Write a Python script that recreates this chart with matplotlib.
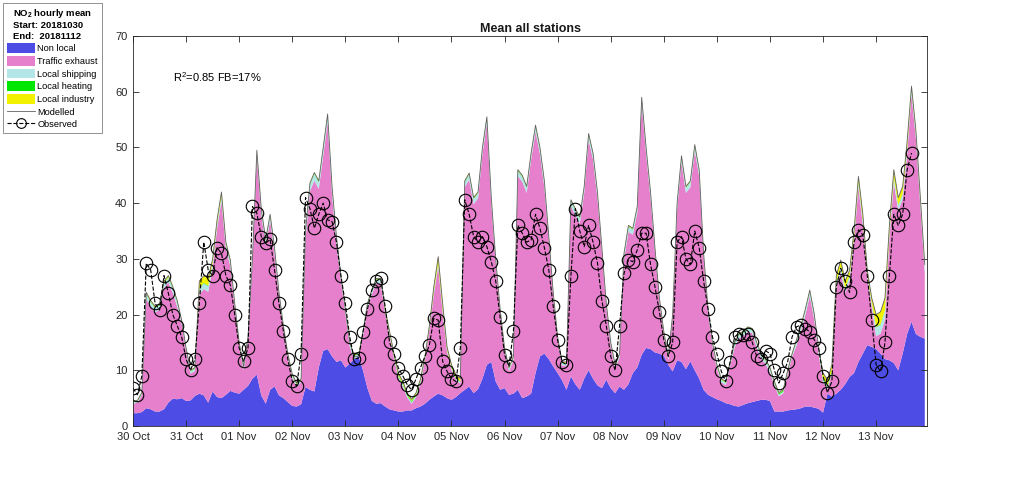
import numpy as np
import matplotlib
matplotlib.use('Agg')
import matplotlib.pyplot as plt
from matplotlib.patches import Patch
from matplotlib.lines import Line2D

plt.rcParams['font.family'] = ['Liberation Sans', 'DejaVu Sans']
plt.rcParams['mathtext.fontset'] = 'custom'
plt.rcParams['mathtext.rm'] = 'Liberation Sans'
plt.rcParams['mathtext.bf'] = 'Liberation Sans:bold'

## time axis: hours since 30 Oct 2018 00:00, one value every 2nd hour
hours = np.arange(0, 360, 2)
day_ticks = np.arange(0, 360, 24)
day_labels = ['30 Oct', '31 Oct', '01 Nov', '02 Nov', '03 Nov', '04 Nov', '05 Nov',
              '06 Nov', '07 Nov', '08 Nov', '09 Nov', '10 Nov', '11 Nov', '12 Nov', '13 Nov']

# modelled total (top of the stack), one row per day
modelled = [
    4.4, 4.6, 6.0, 24.0, 22.5, 21.5, 22.0, 26.0, 27.0, 25.0, 22.5, 19.0,
    14.0, 10.0, 10.5, 26.0, 27.0, 26.5, 30.0, 37.0, 42.0, 33.0, 29.8, 22.0,
    15.0, 10.7, 16.0, 30.0, 49.5, 39.0, 33.5, 38.0, 32.0, 24.0, 18.0, 13.0,
    9.3, 7.7, 8.5, 35.0, 43.6, 45.5, 44.0, 50.0, 56.0, 43.0, 34.0, 27.0,
    21.0, 15.0, 12.5, 12.5, 17.0, 22.0, 24.5, 26.5, 26.5, 21.0, 17.0, 13.0,
    9.5, 8.0, 5.9, 4.8, 6.0, 8.5, 12.5, 18.0, 25.0, 30.4, 22.0, 14.2,
    11.0, 9.2, 8.5, 44.0, 45.4, 41.0, 42.0, 50.0, 55.5, 41.0, 30.0, 21.0,
    14.0, 10.5, 12.5, 46.0, 45.0, 43.0, 49.0, 54.0, 50.0, 44.0, 34.0, 24.0,
    16.0, 11.5, 11.5, 40.6, 39.0, 37.5, 43.0, 52.5, 49.0, 42.0, 32.0, 22.0,
    15.0, 11.0, 13.0, 31.0, 36.0, 35.5, 39.4, 59.0, 50.0, 42.0, 32.0, 23.0,
    17.0, 12.5, 20.0, 40.0, 48.5, 43.0, 44.0, 50.5, 46.0, 31.0, 21.0, 15.0,
    11.0, 8.5, 8.0, 11.5, 15.0, 16.6, 17.0, 17.8, 17.5, 15.0, 13.0, 12.0,
    10.5, 8.0, 6.0, 6.5, 10.0, 13.0, 15.5, 18.0, 21.0, 24.4, 20.2, 14.0,
    9.5, 8.3, 11.0, 27.0, 29.8, 26.0, 28.0, 35.0, 44.8, 38.0, 28.0, 23.0,
    20.0, 20.5, 23.0, 36.0, 46.0, 41.0, 43.0, 51.0, 61.0, 53.0, 41.0, 29.0]

non_local = [
    2.3, 2.3, 2.5, 3.2, 3.0, 2.6, 2.6, 3.0, 4.2, 4.9, 4.8, 5.0,
    4.5, 4.6, 5.4, 5.8, 5.5, 4.2, 6.2, 5.2, 5.0, 5.6, 6.3, 6.0,
    5.8, 6.5, 7.2, 8.5, 9.2, 5.5, 4.0, 6.5, 7.1, 5.5, 5.0, 4.3,
    3.6, 3.5, 3.9, 7.0, 6.5, 6.2, 10.5, 13.5, 13.8, 12.5, 11.5, 11.8,
    10.5, 11.2, 12.0, 12.5, 10.0, 6.8, 4.5, 4.0, 4.1, 3.5, 3.0, 2.8,
    2.6, 2.6, 2.8, 2.8, 3.2, 3.5, 4.0, 4.7, 5.3, 5.8, 5.5, 5.0,
    4.7, 5.2, 5.9, 6.5, 7.1, 5.9, 6.6, 8.5, 11.0, 11.5, 8.0, 6.5,
    6.8, 5.6, 5.8, 6.5, 5.0, 5.3, 5.8, 9.5, 12.5, 13.0, 12.0, 10.7,
    9.5, 8.2, 6.5, 8.9, 7.5, 6.5, 8.5, 10.0, 8.5, 7.3, 6.8, 8.3,
    6.8, 5.9, 7.1, 6.5, 7.5, 9.5, 10.5, 12.8, 14.0, 13.8, 13.2, 13.0,
    12.6, 11.0, 9.8, 11.8, 11.5, 10.2, 11.6, 10.0, 8.5, 6.5, 5.6, 5.2,
    4.8, 4.5, 4.1, 3.9, 3.6, 3.5, 3.8, 4.1, 4.3, 4.5, 4.7, 4.7,
    4.5, 2.6, 2.6, 2.6, 2.8, 2.9, 3.0, 3.2, 3.5, 3.5, 3.3, 3.1,
    2.4, 5.8, 5.3, 5.8, 6.5, 7.5, 8.8, 9.5, 11.5, 13.0, 14.5, 14.2,
    13.8, 13.0, 12.0, 11.8, 11.3, 10.0, 13.0, 16.5, 18.7, 16.5, 16.0, 15.7]

shipping = [
    0.2, 0.2, 0.2, 0.8, 0.8, 0.8, 0.8, 0.8, 0.8, 0.8, 0.8, 0.4,
    0.4, 0.4, 0.4, 1.0, 1.0, 1.0, 0.8, 0.8, 0.8, 0.8, 0.8, 0.4,
    0.4, 0.4, 0.4, 0.8, 0.8, 0.8, 0.8, 0.8, 0.8, 0.4, 0.4, 0.4,
    0.4, 0.4, 0.4, 1.2, 1.2, 1.2, 1.2, 1.2, 1.2, 1.2, 1.2, 0.5,
    0.5, 0.5, 0.5, 0.5, 0.5, 0.6, 0.6, 0.6, 0.6, 0.3, 0.3, 0.3,
    0.3, 0.3, 0.3, 0.3, 0.3, 0.3, 0.3, 0.3, 0.5, 0.5, 0.5, 0.3,
    0.3, 0.3, 0.3, 0.9, 0.9, 0.9, 0.9, 0.9, 0.9, 0.9, 0.4, 0.4,
    0.4, 0.4, 0.4, 0.9, 0.9, 0.9, 0.9, 0.9, 0.9, 0.9, 0.4, 0.4,
    0.4, 0.4, 0.4, 0.9, 0.9, 0.9, 0.9, 0.9, 0.9, 0.9, 0.4, 0.4,
    0.4, 0.4, 0.4, 0.9, 0.9, 0.9, 0.9, 0.9, 0.9, 0.9, 0.4, 0.4,
    0.4, 0.4, 0.4, 0.9, 0.9, 0.9, 0.9, 0.9, 0.9, 0.4, 0.4, 0.4,
    0.4, 0.4, 0.4, 0.4, 0.6, 0.6, 0.6, 0.6, 0.6, 0.6, 0.6, 0.6,
    0.6, 0.3, 0.3, 0.3, 0.3, 0.3, 0.8, 0.8, 0.8, 0.8, 0.8, 0.8,
    0.4, 0.4, 0.4, 0.8, 0.8, 0.8, 0.8, 0.8, 0.8, 0.8, 0.6, 0.6,
    1.6, 1.6, 1.6, 0.9, 0.9, 0.9, 0.9, 0.9, 0.9, 0.9, 0.9, 0.9]

heating = [
    0.1, 0.1, 0.1, 0.1, 0.1, 0.1, 0.1, 0.1, 0.1, 0.1, 0.1, 0.1,
    0.1, 0.1, 0.1, 0.1, 0.1, 0.1, 0.1, 0.1, 0.1, 0.1, 0.1, 0.1,
    0.1, 0.1, 0.1, 0.1, 0.1, 0.1, 0.1, 0.1, 0.1, 0.1, 0.1, 0.1,
    0.1, 0.1, 0.1, 0.1, 0.1, 0.1, 0.1, 0.1, 0.1, 0.1, 0.1, 0.1,
    0.1, 0.1, 0.1, 0.1, 0.1, 0.1, 0.1, 0.1, 0.1, 0.1, 0.1, 0.15,
    0.2, 0.2, 0.2, 0.2, 0.2, 0.2, 0.1, 0.1, 0.1, 0.1, 0.1, 0.1,
    0.1, 0.1, 0.1, 0.1, 0.1, 0.1, 0.1, 0.1, 0.1, 0.1, 0.1, 0.1,
    0.1, 0.1, 0.1, 0.1, 0.1, 0.1, 0.1, 0.1, 0.1, 0.1, 0.1, 0.1,
    0.1, 0.1, 0.1, 0.1, 0.1, 0.1, 0.1, 0.1, 0.1, 0.1, 0.1, 0.1,
    0.1, 0.1, 0.1, 0.1, 0.1, 0.1, 0.1, 0.1, 0.1, 0.1, 0.1, 0.1,
    0.1, 0.1, 0.1, 0.1, 0.1, 0.1, 0.1, 0.1, 0.1, 0.1, 0.1, 0.1,
    0.1, 0.1, 0.1, 0.1, 0.1, 0.1, 0.1, 0.1, 0.1, 0.1, 0.1, 0.1,
    0.1, 0.2, 0.2, 0.2, 0.2, 0.1, 0.1, 0.1, 0.1, 0.1, 0.1, 0.1,
    0.2, 0.2, 0.2, 0.1, 0.1, 0.1, 0.1, 0.1, 0.1, 0.1, 0.1, 0.1,
    0.1, 0.1, 0.1, 0.1, 0.1, 0.1, 0.1, 0.1, 0.1, 0.1, 0.1, 0.1]

industry = [
    0.1, 0.1, 0.1, 0.2, 0.2, 0.2, 0.2, 0.3, 0.3, 0.2, 0.2, 0.1,
    0.1, 0.1, 0.1, 1.3, 1.3, 1.3, 0.7, 0.7, 0.7, 0.3, 0.2, 0.1,
    0.15, 0.15, 0.15, 0.15, 0.15, 0.15, 0.15, 0.15, 0.15, 0.15, 0.15, 0.15,
    0.15, 0.15, 0.15, 0.15, 0.15, 0.15, 0.15, 0.15, 0.15, 0.15, 0.15, 0.15,
    0.15, 0.15, 0.15, 0.15, 0.15, 0.15, 0.15, 0.15, 0.15, 0.4, 0.4, 0.4,
    0.4, 0.4, 0.3, 0.3, 0.3, 0.3, 0.3, 0.4, 0.8, 1.2, 1.0, 0.5,
    0.5, 0.5, 0.5, 0.15, 0.15, 0.15, 0.15, 0.15, 0.15, 0.15, 0.15, 0.15,
    0.15, 0.15, 0.15, 0.15, 0.15, 0.15, 0.15, 0.15, 0.15, 0.15, 0.15, 0.15,
    0.15, 0.15, 0.15, 0.15, 0.15, 0.15, 0.15, 0.15, 0.15, 0.15, 0.15, 0.15,
    0.15, 0.15, 0.15, 0.15, 0.15, 0.15, 0.15, 0.15, 0.15, 0.15, 0.15, 0.15,
    0.15, 0.15, 0.15, 0.15, 0.15, 0.15, 0.15, 0.15, 0.15, 0.15, 0.15, 0.15,
    0.15, 0.15, 0.15, 0.15, 0.15, 0.15, 0.15, 0.15, 0.15, 0.15, 0.15, 0.15,
    0.15, 0.15, 0.15, 0.15, 0.15, 0.15, 0.15, 0.15, 0.15, 0.15, 0.15, 0.15,
    1.0, 1.0, 1.0, 1.2, 1.2, 1.2, 1.0, 1.0, 1.0, 1.0, 0.8, 0.8,
    2.2, 2.2, 2.2, 1.3, 1.3, 1.3, 1.3, 1.3, 0.5, 0.5, 0.5, 0.5]

nan = np.nan
observed = [
    6.8, 5.6, 9.0, 29.2, 28.0, 22.0, 20.8, 27.0, 23.8, 20.0, 18.0, 16.0,
    12.0, 10.0, 12.0, 22.0, 33.0, 28.0, 27.0, 32.0, 31.0, 27.0, 25.3, 20.0,
    14.0, 11.6, 14.0, 39.4, 38.2, 34.0, 32.8, 33.5, 28.0, 22.0, 17.0, 12.0,
    8.0, 7.2, 13.0, 41.0, 39.0, 35.5, 38.0, 40.0, 37.0, 36.7, 33.0, 27.0,
    22.0, 16.0, 12.0, 12.2, 16.9, 21.0, 24.4, 26.0, 26.5, 21.5, 15.0, 13.0,
    10.4, 9.0, 7.4, 6.5, 8.5, 10.5, 12.5, 14.5, 19.3, 19.0, 11.6, 9.8,
    8.5, 8.0, 14.0, 40.6, 38.0, 34.0, 33.0, 34.0, 32.2, 29.5, 26.0, 19.5,
    12.8, 10.7, 17.0, 36.0, 34.6, 33.0, 33.4, 38.0, 35.5, 32.0, 28.0, 21.5,
    15.4, 11.5, 11.0, 27.0, 39.0, 35.0, 32.2, 36.0, 33.0, 29.3, 22.5, 18.0,
    12.5, 10.0, 18.0, 27.4, 29.8, 29.5, 31.6, 34.6, 34.6, 29.0, 25.0, 20.5,
    15.5, 12.5, 15.0, 33.0, 34.0, 30.0, 29.0, 35.0, 32.0, 26.0, 21.0, 16.0,
    13.0, 9.8, 8.0, 11.5, 16.0, 16.6, 16.3, 16.6, 15.0, 12.5, 12.1, 13.5,
    13.0, 10.0, 7.7, 9.5, 11.5, 16.0, 17.8, 18.1, 17.5, 16.9, 15.5, 14.0,
    9.0, 6.0, 8.0, 25.0, 28.3, 26.0, 24.0, 33.0, 35.2, 34.3, 27.0, 19.0,
    11.0, 9.8, 15.0, 27.0, 38.0, 36.0, 38.0, 46.0, 49.0, nan, nan, nan]

modelled = np.array(modelled)
non_local = np.array(non_local)
shipping = np.array(shipping)
heating = np.array(heating)
industry = np.array(industry)
# traffic is what is left of the modelled total
traffic = np.clip(modelled - non_local - shipping - heating - industry, 0, None)

colours = ['#4d4de6', '#e680cc', '#b3e6e6', '#00e600', '#f2f200']
names = ['Non local', 'Traffic exhaust', 'Local shipping', 'Local heating', 'Local industry']

fig = plt.figure(figsize=(10.24, 4.78), dpi=100)
ax = fig.add_axes([133/1024, 52/478, 794/1024, 390/478])

ax.stackplot(hours, non_local, traffic, shipping, heating, industry,
             colors=colours, linewidth=0)
ax.plot(hours, modelled, color='#606060', lw=0.6)
ax.plot(hours, observed, color='k', ls='--', lw=0.8, marker='o', ms=9,
        mfc='none', mec='k', mew=0.8)

ax.set_xlim(0, 359)
ax.set_ylim(0, 70)
ax.set_xticks(day_ticks)
ax.set_xticklabels(day_labels)
ax.set_yticks(np.arange(0, 71, 10))
ax.tick_params(direction='in', top=True, right=True, length=4, width=0.6,
               labelsize=8, colors='#262626', pad=4)
for s in ax.spines.values():
    s.set_color('#262626')
    s.set_linewidth(0.6)

ax.set_title('Mean all stations', fontsize=9, fontweight='bold', color='#1a1a1a', pad=3)
ax.text(0.05, 0.895, 'R$^2$=0.85 FB=17%', transform=ax.transAxes, fontsize=8,
        va='center', ha='left')

## legend in the top left corner of the figure
handles = [Patch(facecolor=c, edgecolor='none') for c in colours]
handles.append(Line2D([], [], color='#606060', lw=0.6))
handles.append(Line2D([], [], color='k', ls='--', lw=0.8, marker='o', ms=7,
                      mfc='none', mec='k', mew=0.8))
labels = names + ['Modelled', 'Observed']
leg = fig.legend(handles, labels, loc='upper left', bbox_to_anchor=(3/1024, 1-3/478),
                 title='NO$_\\mathbf{2}$ hourly mean\nStart: 20181030\nEnd:  20181112',
                 title_fontproperties={'weight': 'bold', 'size': 6.8},
                 fontsize=6.7, handlelength=3.0, handleheight=1.2, handletextpad=0.3,
                 labelspacing=0.3, borderpad=0.4, borderaxespad=0, fancybox=False,
                 framealpha=1, edgecolor='#808080')
leg.get_frame().set_linewidth(0.6)

plt.savefig('out.png', dpi=100)
